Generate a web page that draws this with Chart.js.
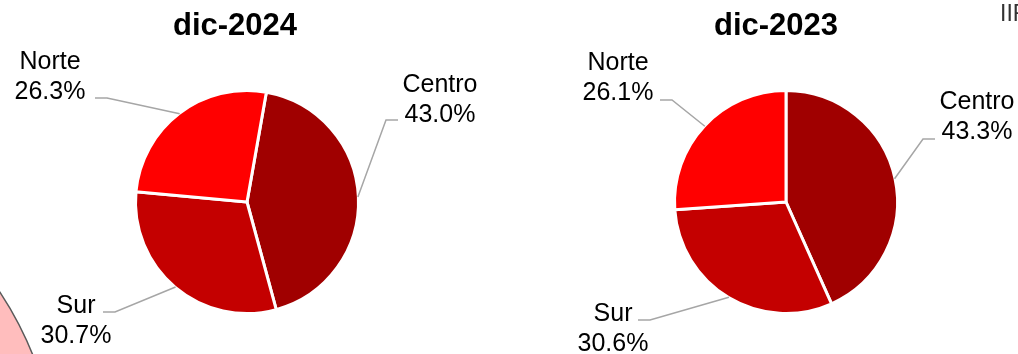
<!DOCTYPE html>
<html>
<head>
<meta charset="utf-8">
<script src="https://cdn.jsdelivr.net/npm/chart.js@4"></script>
<style>
  html, body { margin: 0; padding: 0; background: #fff; }
  #wrap { position: relative; width: 1018px; height: 354px; overflow: hidden; background: #fff; }
  canvas { position: absolute; }
  #bgPie { left: -660px; top: 130px; }
  #pie2024 { left: 0; top: 0; }
  #pie2023 { left: 509px; top: 0; }
  #corner { position: absolute; left: 1000px; top: 0px; font: 23px "Liberation Sans", Arial, sans-serif; color: #333; }
</style>
</head>
<body>
<div id="wrap">
  <canvas id="bgPie" width="720" height="720"></canvas>
  <canvas id="pie2024" width="509" height="354"></canvas>
  <canvas id="pie2023" width="509" height="354"></canvas>
  <div id="corner">IIF</div>
</div>
<script>
// Data
const regions = ["Centro", "Sur", "Norte"];
const share2024 = [43.0, 30.7, 26.3];
const share2023 = [43.3, 30.6, 26.1];
const titles = ["dic-2024", "dic-2023"];

// Styles
const sliceColors = ["#A00000", "#C40000", "#FF0000"];
const leaderColor = "#A6A6A6";
const labelFont = '25px "Liberation Sans", Arial, sans-serif';
const titleFont = 'bold 31px "Liberation Sans", Arial, sans-serif';

// Label placement relative to pie centre: text centre (tx, ty = first baseline), leader tail (lx, ly)
const layout2024 = [
  { tx: 193, ty: -110, lx: 151, ly: -82 },
  { tx: -171, ty: 111, lx: -144, ly: 110 },
  { tx: -197, ty: -133, lx: -152, ly: -104 },
];
const layout2023 = [
  { tx: 191, ty: -93, lx: 149, ly: -63 },
  { tx: -173, ty: 119, lx: -148, ly: 118 },
  { tx: -168, ty: -132, lx: -126, ly: -102 },
];

// Draws title, outside labels and leader lines
const labelPlugin = {
  id: "outsideLabels",
  afterDraw(chart, args, opts) {
    const ctx = chart.ctx;
    const meta = chart.getDatasetMeta(0);
    const values = chart.data.datasets[0].data;
    const first = meta.data[0];
    const cx = first.x, cy = first.y;

    ctx.save();
    ctx.fillStyle = "#000";
    ctx.textAlign = "center";
    ctx.textBaseline = "alphabetic";
    ctx.font = titleFont;
    ctx.fillText(opts.title, cx + opts.titleDx, 35);

    ctx.font = labelFont;
    meta.data.forEach((arc, i) => {
      const pos = opts.layout[i];
      const mid = (arc.startAngle + arc.endAngle) / 2;
      const r = arc.outerRadius - 0.5;
      const ex = arc.x + Math.cos(mid) * r;
      const ey = arc.y + Math.sin(mid) * r;
      const tailX = cx + pos.lx;
      const tailY = cy + pos.ly;
      const elbowX = tailX < cx ? tailX + 12 : tailX - 12;

      ctx.strokeStyle = leaderColor;
      ctx.lineWidth = 1.5;
      ctx.beginPath();
      ctx.moveTo(tailX, tailY);
      ctx.lineTo(elbowX, tailY);
      ctx.lineTo(ex, ey);
      ctx.stroke();

      ctx.fillText(chart.data.labels[i], cx + pos.tx, cy + pos.ty);
      ctx.fillText(values[i].toFixed(1) + "%", cx + pos.tx, cy + pos.ty + 30);
    });
    ctx.restore();
  },
};

function makePie(id, values, rotation, padding, title, titleDx, layout) {
  return new Chart(document.getElementById(id), {
    type: "pie",
    data: {
      labels: regions,
      datasets: [{
        data: values,
        backgroundColor: sliceColors,
        borderColor: "#fff",
        borderWidth: 3,
      }],
    },
    options: {
      responsive: false,
      animation: false,
      rotation: rotation,
      layout: { padding: padding },
      plugins: {
        legend: { display: false },
        tooltip: { enabled: false },
        outsideLabels: { title: title, titleDx: titleDx, layout: layout },
      },
    },
    plugins: [labelPlugin],
  });
}

// Partial slice of a neighbouring chart, cut by the frame
new Chart(document.getElementById("bgPie"), {
  type: "pie",
  data: {
    labels: [""],
    datasets: [{ data: [100], backgroundColor: "#FFBDBD", borderColor: "#5a5a5a", borderWidth: 1.5 }],
  },
  options: {
    responsive: false,
    animation: false,
    plugins: { legend: { display: false }, tooltip: { enabled: false } },
  },
});

makePie("pie2024", share2024, 10, { left: 134, right: 149, top: 89, bottom: 39 }, titles[0], -12, layout2024);
makePie("pie2023", share2023, 0, { left: 164, right: 119, top: 89, bottom: 39 }, titles[1], -10, layout2023);
</script>
</body>
</html>
